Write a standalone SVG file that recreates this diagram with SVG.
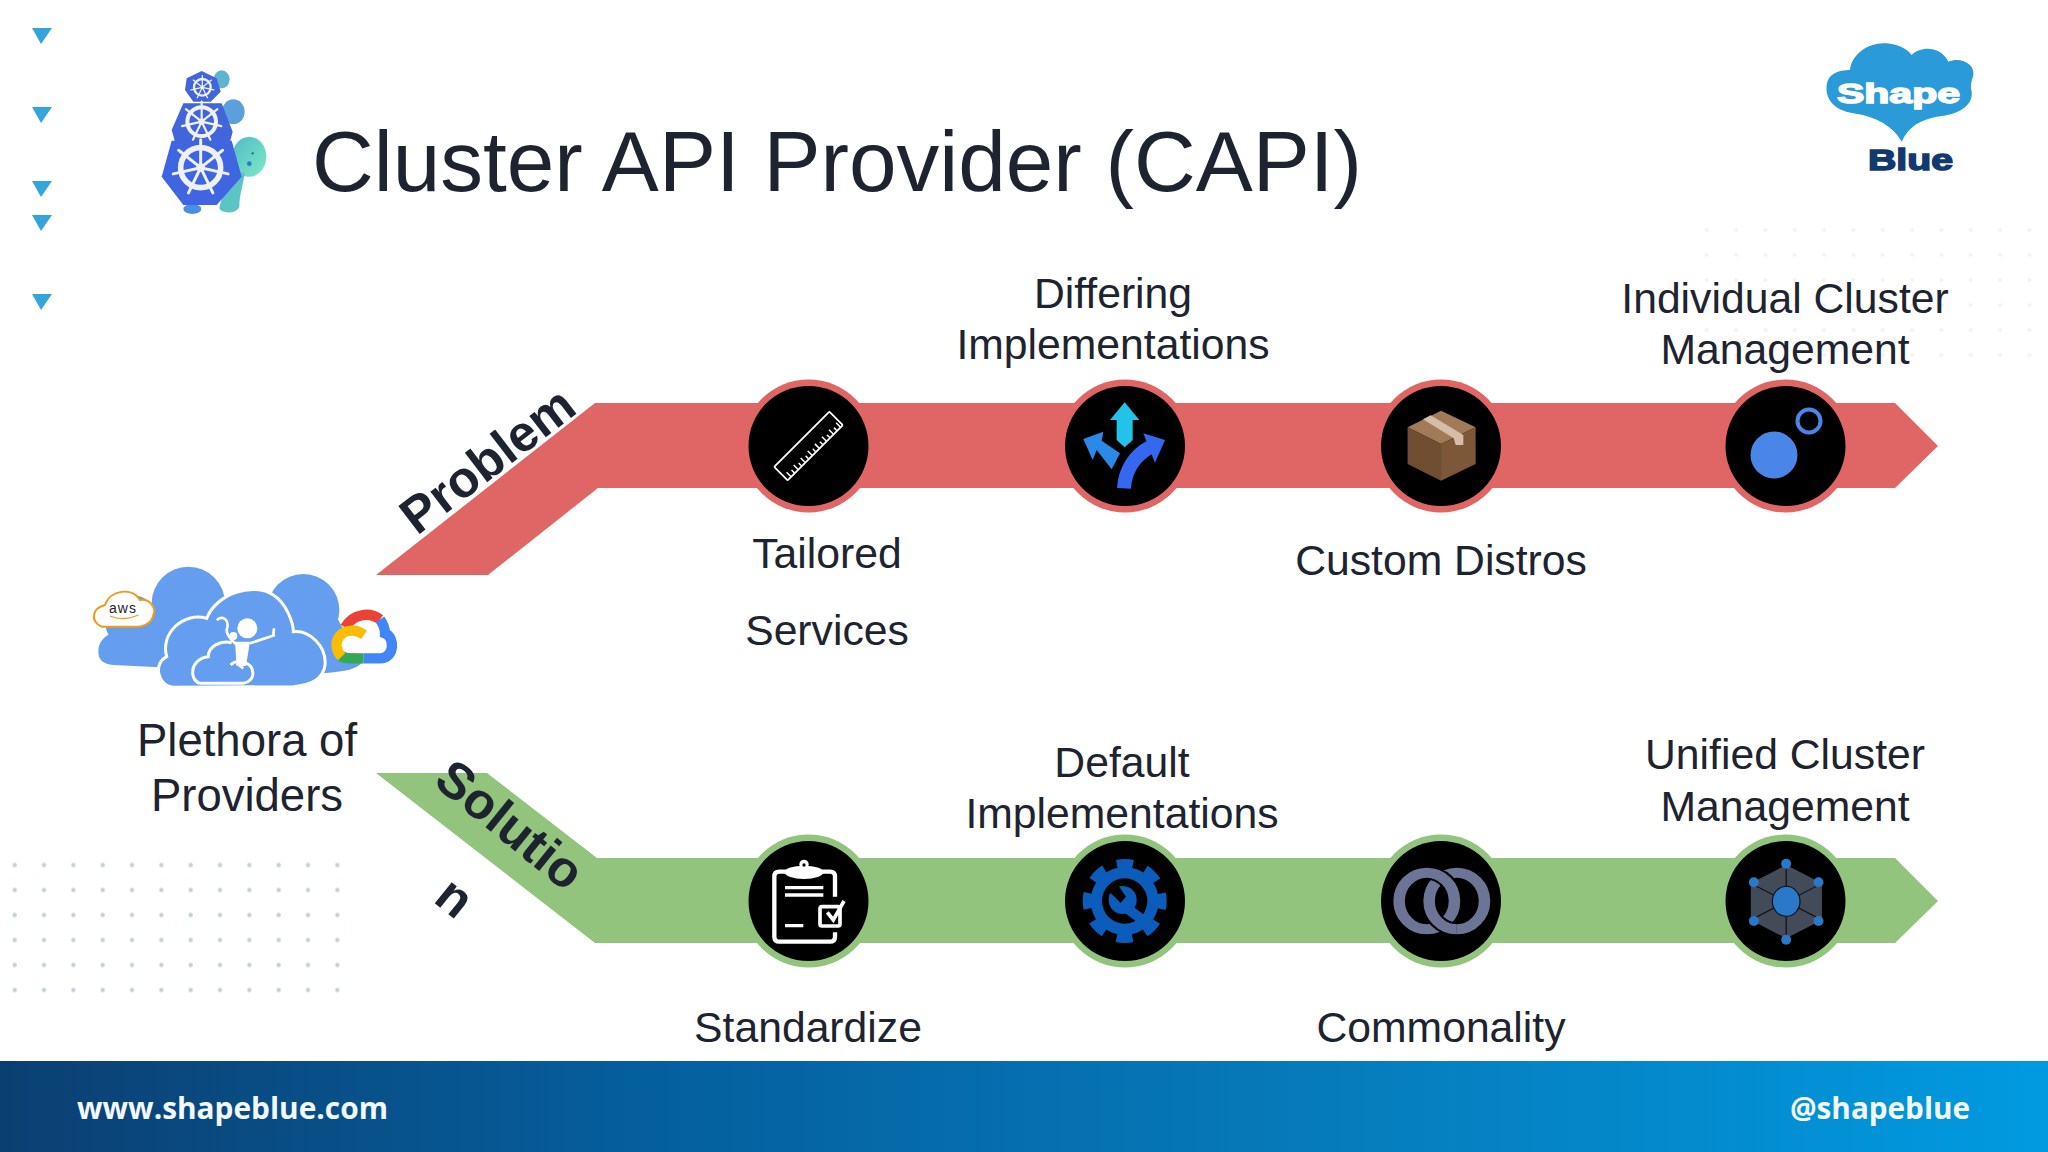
<svg xmlns="http://www.w3.org/2000/svg" width="2048" height="1152" viewBox="0 0 2048 1152">
<style>
text{font-family:"Liberation Sans",Arial,sans-serif;fill:#1e2330}
.l{font-size:42.7px;text-anchor:middle}
.p{font-size:45.500px;text-anchor:middle}
.b{font-size:51px;font-weight:700}
.f{font-family:"Open Sans","Liberation Sans",sans-serif;font-size:30px;font-weight:700;fill:#f2f8fc}
.red{fill:#e06666}.grn{fill:#93c47d}
.tri{fill:#34a5dc}
.spoke{stroke:#eef1fb;fill:none;stroke-linecap:round}
</style>
<defs>
<linearGradient id="foot" x1="0" x2="1" y1="0" y2="0"><stop offset="0" stop-color="#0b3f72"/><stop offset=".33" stop-color="#05609f"/><stop offset=".66" stop-color="#067cbc"/><stop offset="1" stop-color="#019ae0"/></linearGradient>
<linearGradient id="head" x1="0" x2="1" y1="0" y2="1"><stop offset="0" stop-color="#52b9c6"/><stop offset="1" stop-color="#7cecc4"/></linearGradient>
<pattern id="dotsA" x="0.4" y="852.5" width="29.33" height="25" patternUnits="userSpaceOnUse"><circle cx="14.3" cy="12.5" r="2.2" fill="#c5d0d4"/></pattern>
<pattern id="dotsB" x="1692.5" y="217.5" width="29.33" height="25" patternUnits="userSpaceOnUse"><circle cx="14.3" cy="12.5" r="2" fill="#f3f1f4"/></pattern>
<polygon id="tr" points="32,0 52,0 41,16"/>
<g id="wheel"><circle r="1" fill="none" stroke="#eef1fb" stroke-width=".28"/><circle r=".22" fill="#eef1fb"/><path class="spoke" stroke-width=".15" d="M0 0L0 -1.4M0 0L1.1 -.87M0 0L1.37 .31M0 0L.61 1.26M0 0L-.61 1.26M0 0L-1.37 .31M0 0L-1.1 -.87"/></g>
</defs>
<rect width="2048" height="1152" fill="#fff"/>
<g id="background-dots"><rect x="0.4" y="852.5" width="352" height="150" fill="url(#dotsA)"/><rect x="1692.5" y="217.5" width="352" height="150" fill="url(#dotsB)"/></g>
<g id="markers" class="tri"><use href="#tr" y="28"/><use href="#tr" y="107"/><use href="#tr" y="181"/><use href="#tr" y="215"/><use href="#tr" y="294"/></g>
<g id="capi-logo" transform="scale(.33333)">
<ellipse cx="665" cy="238" rx="24" ry="27" fill="#5fb2d0"/><ellipse cx="700" cy="335" rx="34" ry="37" fill="#5b9fdc"/>
<ellipse cx="748" cy="470" rx="51" ry="60" fill="url(#head)"/>
<path d="M680 500L735 520C725 570 718 590 718 620C705 645 665 640 658 625C665 590 680 570 680 500Z" fill="#5cc4c4"/>
<circle cx="758" cy="460" r="3.500" fill="#2a6a8a"/><circle cx="748" cy="491" r="7" fill="#2a78c8"/>
<ellipse cx="577" cy="627" rx="27" ry="15" fill="#4b8ee6"/>
<polygon points="515,422 695,422 725,530 650,615 550,615 485,530" fill="#3f66e0"/>
<polygon points="550,310 665,310 698,395 690,425 525,425 515,390" fill="#4265da"/>
<polygon points="605,213 650,235 662,275 632,305 580,305 555,270 560,235" fill="#4265da"/>
<use href="#wheel" transform="translate(602,503) scale(60)"/><use href="#wheel" transform="translate(605,365) scale(43)"/><use href="#wheel" transform="translate(607,262) scale(25)"/>
</g>
<text id="title" x="312" y="191" font-size="85.500">Cluster API Provider (CAPI)</text>
<g id="shapeblue-logo" transform="translate(1780,20) scale(.33333)">
<path d="M365 365C340 320 290 290 220 280C160 270 135 235 140 195C145 160 175 150 210 150C215 100 270 65 320 70C350 72 380 85 395 105C420 80 480 75 505 125C540 110 585 130 580 165C575 185 570 195 575 215C580 260 530 285 470 290C420 300 385 320 365 365Z" fill="#2a9ad8"/>
</g>
<text id="logo-shape" x="1837" y="103" font-size="28" font-weight="700" textLength="123" lengthAdjust="spacingAndGlyphs" style="fill:#fff;stroke:#fff;stroke-width:1.500">Shape</text>
<text id="logo-blue" x="1868" y="170" font-size="30" font-weight="700" textLength="85" lengthAdjust="spacingAndGlyphs" style="fill:#123a70;stroke:#123a70;stroke-width:1.500">Blue</text>
<g id="providers" transform="translate(60,540) scale(.33333)">
<g fill="#659eee"><circle cx="385" cy="190" r="110"/><circle cx="215" cy="245" r="80"/><path d="M115 335C115 300 140 285 170 270L300 180L500 300L300 382L160 375C130 372 115 360 115 335Z"/><circle cx="730" cy="210" r="108"/><path d="M640 200L835 240L905 370C880 395 830 395 790 400L640 400Z"/></g>
<path d="M340 442C290 435 280 370 320 350C300 280 370 215 440 235C470 160 580 125 640 165C680 190 700 250 700 275C750 270 800 320 795 375C790 420 750 435 700 440Z" fill="#659eee" stroke="#fff" stroke-width="9"/>
<path d="M420 430C385 420 390 355 445 350C445 320 480 300 515 308M512 375C530 355 575 365 578 395C582 415 565 428 550 430L420 430" fill="none" stroke="#fff" stroke-width="9"/>
<path d="M470 240C490 225 510 240 500 270C500 290 520 305 530 315M570 310L645 285M640 285L642 265M550 385L530 370" fill="none" stroke="#fff" stroke-width="8"/>
<circle cx="562" cy="265" r="30" fill="#fff"/><circle cx="520" cy="288" r="12" fill="#fff"/><path d="M525 305H570L558 378H530Z" fill="#fff"/>
<path d="M125 260C90 245 95 205 135 195C150 150 215 140 240 180C270 175 290 205 280 225C275 250 250 262 230 260Z" fill="#fff" stroke="#f59a16" stroke-width="6"/>
<path d="M150 228Q190 245 235 225" fill="none" stroke="#f59a16" stroke-width="4"/>
<path d="M870 340C825 340 815 310 825 295C830 270 870 265 885 270C890 240 950 225 965 270C1000 280 1000 345 960 345Z" fill="#fff"/>
<g fill="none" stroke-width="31"><path d="M855 262C880 220 930 215 960 238" stroke="#ea4335"/><path d="M960 238C975 260 975 275 975 280C1005 290 1005 355 960 355L910 355" stroke="#4285f4"/><path d="M910 355L870 355C855 355 845 350 840 345" stroke="#34a853"/><path d="M845 350C815 320 830 270 880 272C895 272 905 280 912 285" stroke="#fbbc04"/></g>
</g>
<text id="aws" x="123" y="613" text-anchor="middle" font-size="14" letter-spacing="1">aws</text>
<g id="connectors">
<polygon class="red" points="376,575 488,575 598,488 1895,488 1938,446 1895,403 595,403"/>
<polygon class="grn" points="376,773 487,773 597,858 1895,858 1938,901 1895,943 595,943"/>
</g>
<g id="problem-1"><circle class="red" cx="808.500" cy="446" r="66.500"/><circle cx="808.500" cy="446" r="60"/>
<g transform="translate(808.500,446) rotate(-45)"><rect x="-39" y="-9.500" width="78" height="19" fill="none" stroke="#fff" stroke-width="1.800" rx="1"/><path d="M-34 9V3M-29 9V5M-24 9V3M-19 9V5M-14 9V3M-9 9V5M-4 9V3M1 9V5M6 9V3M11 9V5M16 9V3M21 9V5M26 9V3M31 9V5M36 9V3" stroke="#fff" stroke-width="1.500"/></g></g>
<g id="problem-2"><circle class="red" cx="1125" cy="446" r="66.500"/><circle cx="1125" cy="446" r="60"/>
<g transform="translate(720,370) scale(.33333)"><polygon points="1214,97 1258,150 1238,150 1238,210 1214,232 1190,210 1190,150 1170,150" fill="#22c3e8"/><polygon points="1090,207 1150,185 1145,212 1200,250 1175,298 1130,240 1118,270" fill="#2a8ae8"/><path d="M1212 355C1215 300 1245 255 1290 232" fill="none" stroke="#3468f0" stroke-width="42"/><polygon points="1270,190 1335,210 1305,278" fill="#3468f0"/></g></g>
<g id="problem-3"><circle class="red" cx="1441" cy="446" r="66.500"/><circle cx="1441" cy="446" r="60"/>
<g transform="translate(1359.500,370) scale(.3846,.33333)"><polygon points="212,122 302,172 212,222 125,172" fill="#a17a58"/><polygon points="125,172 212,222 212,332 125,282" fill="#6f4e31"/><polygon points="212,222 302,172 302,282 212,332" fill="#7c5838"/><polygon points="165,148 185,136 270,195 270,225 250,225 245,205" fill="#d5bda7"/></g></g>
<g id="problem-4"><circle class="red" cx="1785.500" cy="446" r="66.500"/><circle cx="1785.500" cy="446" r="60"/><circle cx="1774" cy="455" r="23.500" fill="#4a86e8"/><circle cx="1809" cy="421" r="11.500" fill="none" stroke="#4a86e8" stroke-width="4"/></g>
<g id="solution-1"><circle class="grn" cx="808.500" cy="901" r="66.500"/><circle cx="808.500" cy="901" r="60"/>
<g transform="translate(720,825) scale(.33333)"><path d="M345 215V155Q345 140 330 140H178Q163 140 163 155V335Q163 350 178 350H330Q345 350 345 335V322" fill="none" stroke="#fff" stroke-width="13"/><ellipse cx="252" cy="142" rx="58" ry="20" fill="#fff"/><circle cx="252" cy="118" r="14" fill="#fff"/><circle cx="252" cy="120" r="5"/><path d="M195 188H310M195 210H310M195 302H250" stroke="#fff" stroke-width="10"/><rect x="300" y="245" width="60" height="58" rx="6" fill="#000" stroke="#fff" stroke-width="11"/><path d="M322 262L340 285L372 228" fill="none" stroke="#fff" stroke-width="11"/></g></g>
<g id="solution-2"><circle class="grn" cx="1125" cy="901" r="66.500"/><circle cx="1125" cy="901" r="60"/>
<g transform="translate(720,825) scale(.33333)" fill="#0b5cbb"><circle cx="1214" cy="228" r="102"/><circle cx="1214" cy="228" r="112" fill="none" stroke="#0b5cbb" stroke-width="28" stroke-dasharray="48 39.960" stroke-dashoffset="24"/><circle cx="1214" cy="228" r="68" fill="#000"/><circle cx="1208" cy="225" r="42"/><path d="M1208 240L1285 298" stroke="#0b5cbb" stroke-width="30"/><polygon points="1158,190 1186,168 1218,215 1202,234" fill="#000"/></g></g>
<g id="solution-3"><circle class="grn" cx="1441" cy="901" r="66.500"/><circle cx="1441" cy="901" r="60"/>
<g transform="translate(1359.500,825) scale(.3846,.33333)" fill="none"><ellipse cx="253" cy="228" rx="72" ry="85" stroke="#6c7596" stroke-width="30"/><ellipse cx="175" cy="228" rx="72" ry="85" stroke="#000" stroke-width="42"/><ellipse cx="175" cy="228" rx="72" ry="85" stroke="#6c7596" stroke-width="30"/><path d="M181 228A72 85 0 0 0 253 313" stroke="#000" stroke-width="42"/><path d="M181 228A72 85 0 0 0 253 313" stroke="#6c7596" stroke-width="30"/></g></g>
<g id="solution-4"><circle class="grn" cx="1785.500" cy="901" r="66.500"/><circle cx="1785.500" cy="901" r="60"/>
<g transform="translate(1358.500,825) scale(.3846,.33333)"><polygon points="1112,120 1205,175 1205,285 1112,340 1020,285 1020,175" fill="#434a58"/><path d="M1112 120V340M1020 175L1205 285M1205 175L1020 285" stroke="#0a0d14" stroke-width="3"/><ellipse cx="1112" cy="229" rx="36" ry="45" fill="#2a78c8" stroke="#0a0d14" stroke-width="3"/><g fill="#2a78c8"><ellipse cx="1112" cy="116" rx="13" ry="15"/><ellipse cx="1196" cy="172" rx="13" ry="15"/><ellipse cx="1196" cy="288" rx="13" ry="15"/><ellipse cx="1112" cy="344" rx="13" ry="15"/><ellipse cx="1028" cy="288" rx="13" ry="15"/><ellipse cx="1028" cy="172" rx="13" ry="15"/></g></g></g>
<g id="labels">
<text class="l" x="1113" y="308">Differing</text><text class="l" x="1113" y="359">Implementations</text>
<text class="l" x="1785" y="313">Individual Cluster</text><text class="l" x="1785" y="364">Management</text>
<text class="l" x="827" y="568">Tailored</text><text class="l" x="827" y="645">Services</text>
<text class="l" x="1441" y="574.500">Custom Distros</text>
<text class="p" x="247" y="756">Plethora of</text><text class="p" x="247" y="811">Providers</text>
<text class="l" x="1122" y="777">Default</text><text class="l" x="1122" y="828">Implementations</text>
<text class="l" x="1785" y="769">Unified Cluster</text><text class="l" x="1785" y="821">Management</text>
<text class="l" x="808" y="1042">Standardize</text><text class="l" x="1441" y="1042">Commonality</text>
</g>
<text id="problem" class="b" transform="translate(417,536) rotate(-37.500)">Problem</text>
<text id="solutio" class="b" transform="translate(432,784) rotate(39)">Solutio</text>
<text id="solutio-n" class="b" transform="translate(432,901) rotate(39)">n</text>
<g id="footer"><rect y="1061" width="2048" height="91" fill="url(#foot)"/><text class="f" x="77" y="1119" textLength="311" lengthAdjust="spacingAndGlyphs">www.shapeblue.com</text><text class="f" x="1790" y="1119" textLength="180" lengthAdjust="spacingAndGlyphs">@shapeblue</text></g>
</svg>
